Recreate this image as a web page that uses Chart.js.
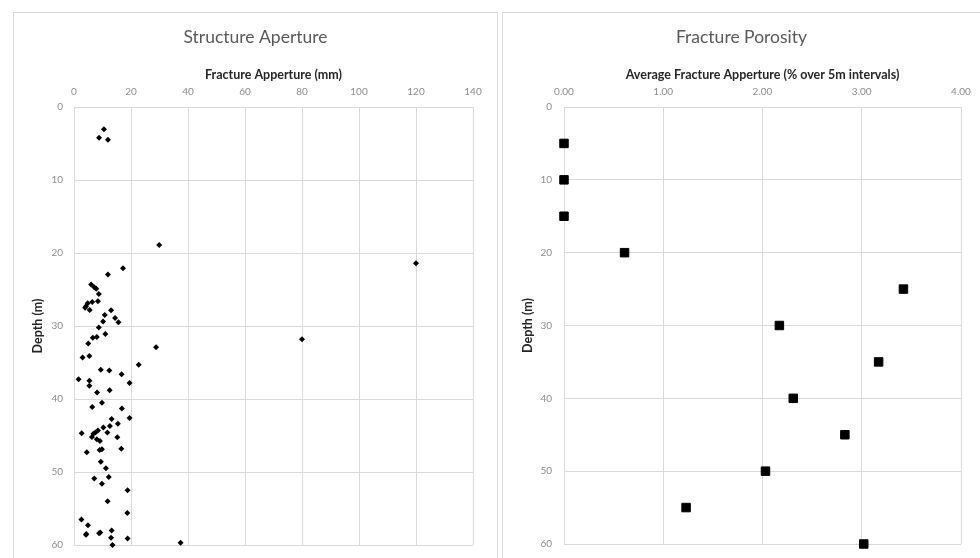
<!DOCTYPE html>
<html>
<head>
<meta charset="utf-8">
<script src="https://cdn.jsdelivr.net/npm/chart.js@4.4.1/dist/chart.umd.min.js"></script>
<style>
  html, body { margin: 0; padding: 0; background: #fff; overflow: hidden; width: 980px; height: 558px; }
  .box { position: absolute; border: 1px solid #d9d9d9; box-sizing: border-box; background: #fff; }
  #boxA { left: 13px; top: 12px; width: 485px; height: 620px; }
  #boxB { left: 502px; top: 12px; width: 520px; height: 620px; }
  canvas { position: absolute; left: 0; top: 0; }
</style>
</head>
<body>
<div class="box" id="boxA"><canvas id="apertureChart" width="483" height="549"></canvas></div>
<div class="box" id="boxB"><canvas id="porosityChart" width="477" height="549"></canvas></div>
<script>
// Individual fracture apertures (mm) logged against depth (m)
const fractureDepth = [
  3.05, 4.2, 4.5, 18.9, 21.4, 22.1, 22.95, 24.3, 24.7, 24.9,
  25.6, 26.6, 26.7, 26.9, 27.3, 27.5, 27.8, 27.85, 28.5, 28.9,
  29.4, 29.5, 30.2, 31.1, 31.5, 31.6, 31.8, 32.4, 32.9, 34.1,
  34.3, 35.3, 36.0, 36.1, 36.6, 37.3, 37.5, 37.8, 38.2, 38.8,
  39.1, 40.5, 41.1, 41.3, 42.6, 42.75, 43.4, 43.7, 43.9, 44.3,
  44.6, 44.6, 44.7, 44.75, 45.2, 45.25, 45.5, 45.75, 46.8, 46.9,
  47.0, 47.3, 48.6, 49.5, 50.7, 50.9, 51.6, 52.5, 54.0, 55.6,
  56.5, 57.3, 58.0, 58.3, 58.4, 58.5, 58.6, 59.0, 59.1, 59.7,
  60.0
];
const fractureAperture = [
  10.5, 8.8, 11.9, 29.9, 120, 17.2, 11.9, 6.0, 7.1, 7.8,
  8.7, 8.4, 6.4, 4.8, 4.2, 3.9, 5.5, 13.0, 10.8, 14.4,
  10.2, 15.6, 8.7, 11.0, 8.0, 6.6, 80, 5.0, 28.8, 5.4,
  3.0, 22.7, 9.4, 12.4, 16.7, 1.6, 5.4, 19.5, 5.4, 12.5,
  8.1, 9.8, 6.4, 16.8, 19.5, 13.2, 15.4, 12.6, 10.3, 8.4,
  7.5, 11.7, 2.7, 6.8, 6.3, 15.2, 8.0, 9.1, 16.6, 9.8,
  9.0, 4.5, 9.4, 11.2, 12.2, 7.1, 9.8, 18.8, 11.8, 18.7,
  2.6, 4.9, 13.2, 9.2, 8.8, 4.3, 4.2, 13.0, 18.8, 37.4,
  13.5
];

// Average fracture porosity (%) per 5 m interval
const intervalDepth = [5, 10, 15, 20, 25, 30, 35, 40, 45, 50, 55, 60];
const intervalPorosity = [0.00, 0.00, 0.00, 0.61, 3.42, 2.17, 3.17, 2.31, 2.83, 2.03, 1.23, 3.02];

// Axis ranges and tick steps
const depthTicks = { min: 0, max: 60, step: 10 };
const apertureTicks = { min: 0, max: 140, step: 20 };
const porosityTicks = { min: 0, max: 4, step: 1 };

const FONT = 'Lato, "Open Sans", "Liberation Sans", sans-serif';
const GRID = '#d9d9d9';
const TICK = '#8c8c8c';
const TITLE = '#595959';
const AXIS_TITLE = '#262626';

function buildChart(canvasId, title, xTitle, xs, ys, xRange, xFormat, point, geom) {
  const pts = xs.map((x, i) => ({ x: x, y: ys[i] }));
  return new Chart(document.getElementById(canvasId), {
    type: 'scatter',
    data: {
      datasets: [{
        data: pts,
        pointStyle: point.style,
        pointRadius: point.radius,
        pointBorderWidth: point.border,
        backgroundColor: '#000',
        borderColor: '#000',
        clip: false
      }]
    },
    options: {
      responsive: false,
      animation: false,
      devicePixelRatio: 1,
      layout: { autoPadding: false, padding: { left: 0, right: 0, top: 0, bottom: 10 } },
      plugins: {
        legend: { display: false },
        tooltip: { enabled: false },
        title: {
          display: true,
          text: title,
          color: TITLE,
          font: { family: FONT, size: 17.5, weight: 'normal' },
          padding: { top: 14, bottom: 5 }
        }
      },
      scales: {
        x: {
          type: 'linear',
          position: 'top',
          min: xRange.min,
          max: xRange.max,
          afterFit: (s) => { s.height = 54; },
          ticks: {
            stepSize: xRange.step,
            color: TICK,
            padding: 9,
            font: { family: FONT, size: 10 },
            callback: xFormat
          },
          grid: { color: GRID, lineWidth: 1, drawTicks: false },
          border: { color: GRID },
          title: {
            display: true,
            text: xTitle,
            color: AXIS_TITLE,
            font: { family: FONT, size: 12.5, weight: 'bold' },
            padding: { top: 14.5, bottom: 0 }
          }
        },
        y: {
          type: 'linear',
          position: 'left',
          reverse: true,
          min: depthTicks.min,
          max: depthTicks.max,
          afterFit: (s) => { s.width = geom.yAxisW; },
          ticks: {
            stepSize: depthTicks.step,
            color: TICK,
            padding: geom.yTickPad,
            font: { family: FONT, size: 10 }
          },
          grid: { color: GRID, lineWidth: 1, drawTicks: false },
          border: { color: GRID },
          title: {
            display: true,
            text: 'Depth (m)',
            color: AXIS_TITLE,
            font: { family: FONT, size: 12.5, weight: 'bold' },
            padding: { top: geom.yTitlePad, bottom: 0 }
          }
        },
        // blank right-hand margin so the plot stops short of the frame
        yMargin: {
          type: 'linear',
          position: 'right',
          display: true,
          afterFit: (s) => { s.width = geom.right; },
          ticks: { display: false },
          grid: { display: false, drawTicks: false },
          border: { display: false }
        }
      }
    }
  });
}

buildChart('apertureChart', 'Structure Aperture', 'Fracture Apperture (mm)',
  fractureAperture, fractureDepth, apertureTicks,
  (v) => v,
  { style: 'rectRot', radius: 3, border: 0 },
  { right: 24, yAxisW: 60, yTickPad: 11, yTitlePad: 16.5 });

buildChart('porosityChart', 'Fracture Porosity', 'Average Fracture Apperture (% over 5m intervals)',
  intervalPorosity, intervalDepth, porosityTicks,
  (v) => Number(v).toFixed(2),
  { style: 'rect', radius: 6, border: 1 },
  { right: 19, yAxisW: 61, yTickPad: 12, yTitlePad: 17.5 });
</script>
</body>
</html>
